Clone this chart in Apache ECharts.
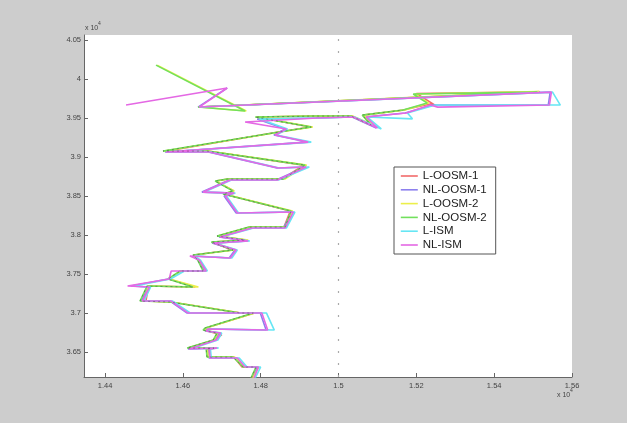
<!DOCTYPE html>
<html><head><meta charset="utf-8">
<script src="https://cdn.jsdelivr.net/npm/echarts@6/dist/echarts.min.js"></script>
<style>html,body{margin:0;padding:0;background:#cdcdcd}#c{width:627px;height:423px}</style>
</head><body><div id="c"></div>
<script>
const seriesNames = ['L-OOSM-1','NL-OOSM-1','L-OOSM-2','NL-OOSM-2','L-ISM','NL-ISM'];
const xTicks = [14400,14600,14800,15000,15200,15400,15600];
const yTicks = [36500,37000,37500,38000,38500,39000,39500,40000,40500];
const refX = [15000];

const lOosm1 = [[14778,36167],[14790,36308],[14752,36308],[14731,36436],[14664,36436],[14662,36539],[14684,36551],[14613,36551],[14680,36654],[14700,36720],[14654,36782],[14659,36808],[14784,37000],[14749,37000],[14569,37141],[14505,37154],[14512,37346],[14632,37333],[14564,37436],[14595,37539],[14655,37539],[14639,37692],[14628,37744],[14726,37808],[14675,37910],[14762,37936],[14690,37987],[14772,38103],[14860,38103],[14876,38308],[14705,38526],[14731,38564],[14685,38692],[14716,38718],[14855,38718],[14910,38897],[14664,39077],[14560,39077],[14845,39321],[14928,39385],[14788,39513],[14937,39526],[15034,39526],[15082,39410],[15063,39538],[15168,39603],[15180,39620],[15236,39680],[15250,39660],[15200,39815],[15518,39838],[14645,39641]];

const nlOosm1 = [[14781,36167],[14791,36308],[14757,36308],[14737,36423],[14667,36423],[14665,36539],[14685,36551],[14613,36539],[14683,36654],[14693,36744],[14657,36769],[14662,36795],[14814,36782],[14799,37000],[14611,37000],[14567,37154],[14493,37154],[14511,37333],[14467,37346],[14562,37436],[14598,37539],[14657,37539],[14639,37680],[14626,37731],[14719,37705],[14734,37808],[14675,37897],[14765,37923],[14693,37974],[14775,38090],[14858,38090],[14881,38295],[14737,38282],[14706,38500],[14729,38538],[14649,38551],[14719,38705],[14840,38705],[14914,38872],[14842,38859],[14665,39064],[14554,39064],[14919,39192],[14834,39282],[14863,39359],[14791,39487],[14942,39500],[15035,39513],[15097,39372],[15068,39513],[15171,39564],[15243,39667],[15539,39667],[15544,39833],[14639,39641],[14714,39885]];

const lOosm2 = [[14780,36167],[14795,36308],[14758,36308],[14733,36436],[14665,36436],[14663,36539],[14690,36551],[14615,36551],[14680,36654],[14690,36744],[14655,36782],[14660,36808],[14785,37000],[14750,37000],[14570,37141],[14500,37154],[14512,37346],[14640,37333],[14565,37436],[14596,37539],[14660,37539],[14640,37692],[14629,37744],[14732,37808],[14676,37910],[14768,37936],[14690,37987],[14773,38103],[14866,38103],[14882,38308],[14706,38526],[14732,38564],[14686,38692],[14717,38718],[14862,38718],[14918,38897],[14665,39077],[14552,39077],[14850,39321],[14934,39385],[14790,39513],[14940,39526],[15036,39526],[15090,39410],[15065,39538],[15170,39603],[15232,39692],[15196,39808],[15516,39840],[14642,39641],[14763,39590],[14534,40179]];

const nlOosm2 = [[14775,36167],[14788,36308],[14755,36308],[14729,36436],[14662,36436],[14660,36539],[14680,36551],[14611,36551],[14678,36654],[14688,36744],[14652,36782],[14657,36808],[14781,37000],[14747,37000],[14567,37141],[14490,37154],[14508,37346],[14626,37333],[14562,37436],[14593,37539],[14652,37539],[14637,37692],[14626,37744],[14729,37808],[14673,37910],[14760,37936],[14688,37987],[14770,38103],[14863,38103],[14878,38308],[14703,38526],[14729,38564],[14683,38692],[14714,38718],[14858,38718],[14914,38897],[14662,39077],[14549,39077],[14847,39321],[14930,39385],[14786,39513],[14935,39526],[15032,39526],[15084,39410],[15061,39538],[15166,39603],[15228,39692],[15192,39808],[15511,39833],[14639,39641],[14760,39590],[14531,40179]];

const lIsm = [[14786,36167],[14800,36308],[14765,36308],[14745,36423],[14673,36423],[14671,36539],[14692,36551],[14620,36539],[14690,36654],[14700,36744],[14663,36769],[14668,36795],[14835,36782],[14815,37000],[14620,37000],[14573,37154],[14500,37154],[14517,37333],[14475,37346],[14568,37436],[14604,37539],[14663,37539],[14645,37680],[14632,37731],[14726,37705],[14740,37808],[14681,37897],[14772,37923],[14699,37974],[14782,38090],[14866,38090],[14888,38295],[14743,38282],[14712,38500],[14735,38538],[14655,38551],[14725,38705],[14846,38705],[14925,38872],[14848,38859],[14671,39064],[14560,39064],[14930,39192],[14840,39282],[14869,39359],[14797,39487],[14950,39500],[15041,39513],[15110,39360],[15074,39513],[15190,39490],[15177,39564],[15249,39667],[15570,39667],[15550,39833],[14645,39641]];

const nlIsm = [[14783,36167],[14794,36308],[14760,36308],[14740,36423],[14670,36423],[14668,36539],[14688,36551],[14616,36539],[14686,36654],[14697,36744],[14660,36769],[14665,36795],[14818,36782],[14803,37000],[14614,37000],[14570,37154],[14496,37154],[14514,37333],[14458,37346],[14565,37436],[14570,37539],[14660,37539],[14642,37680],[14618,37731],[14722,37705],[14737,37808],[14678,37897],[14768,37923],[14696,37974],[14778,38090],[14862,38090],[14884,38295],[14740,38282],[14709,38500],[14732,38538],[14652,38551],[14722,38705],[14843,38705],[14917,38872],[14845,38859],[14668,39064],[14557,39064],[14922,39192],[14837,39282],[14866,39359],[14760,39450],[14945,39500],[15038,39513],[15100,39372],[15071,39513],[15174,39564],[15236,39667],[15255,39640],[15542,39667],[15547,39833],[14642,39641],[14714,39885],[14454,39667]];

const seriesData = [lOosm1, nlOosm1, lOosm2, nlOosm2, lIsm, nlIsm];
const colors = ['#f26b6b','#8d80ee','#ecef4a','#72e05c','#66e6f4','#e468e4'];

const chart = echarts.init(document.getElementById('c'), null, {renderer:'canvas'});
const fmt = v => String(+(v/1e4).toFixed(2));
const font = '"Liberation Sans", Arial, sans-serif';

const series = seriesData.map((d,i) => ({
  name: seriesNames[i], type:'line', data:d, symbol:'none', smooth:false,
  lineStyle:{color:colors[i], width:1.6}, itemStyle:{color:colors[i]}, z:2+i
}));
series.push({
  name:'track', type:'line', data:nlOosm2.slice(0,46), symbol:'none',
  lineStyle:{color:'#333', width:1, type:[2,3], opacity:0.4}, z:10
});
series.push({
  name:'ref', type:'line', data:[], symbol:'none',
  markLine:{silent:true, symbol:'none', label:{show:false},
    lineStyle:{color:'#aaa', width:1.2, type:[2,10]},
    data: refX.map(v => ({xAxis:v}))}, z:1
});

chart.setOption({
  animation:false,
  backgroundColor:'#cdcdcd',
  textStyle:{fontFamily:font},
  grid:{left:84, right:55, top:35, bottom:46, show:true, backgroundColor:'#fff', borderWidth:0},
  xAxis:{type:'value', min:14346, max:15600,
    axisLine:{onZero:false, lineStyle:{color:'#666', width:1}},
    axisTick:{inside:true, length:4, customValues:xTicks, lineStyle:{color:'#666'}},
    axisLabel:{customValues:xTicks, formatter:fmt, fontSize:7.5, color:'#444', margin:5, fontFamily:font},
    splitLine:{show:false}},
  yAxis:{type:'value', min:36180, max:40565,
    axisLine:{show:true, onZero:false, lineStyle:{color:'#666', width:1}},
    axisTick:{show:true, inside:true, length:4, customValues:yTicks, lineStyle:{color:'#666'}},
    axisLabel:{customValues:yTicks, formatter:fmt, fontSize:7.5, color:'#444', margin:3, fontFamily:font},
    splitLine:{show:false}},
  legend:{data:seriesNames, orient:'vertical', left:394, top:167,
    itemWidth:17, itemHeight:11, itemGap:1.8, padding:[3,9,3,6],
    itemStyle:{opacity:0, borderWidth:0},
    lineStyle:{width:1.6},
    backgroundColor:'#fff', borderColor:'#555', borderWidth:1, borderRadius:0,
    textStyle:{fontSize:11.5, color:'#222', fontFamily:font}},
  graphic:[
    {type:'text', left:85, top:25, style:{text:'x 10', fill:'#444', font:'7px '+font}},
    {type:'text', left:98, top:21, style:{text:'4', fill:'#444', font:'5px '+font}},
    {type:'text', left:557, top:392, style:{text:'x 10', fill:'#444', font:'7px '+font}},
    {type:'text', left:570, top:388, style:{text:'4', fill:'#444', font:'5px '+font}}
  ],
  series:series
});
</script></body></html>
